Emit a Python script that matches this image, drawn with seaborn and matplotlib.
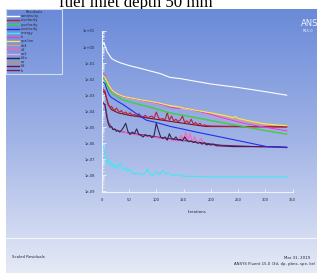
import numpy as np
import pandas as pd
import matplotlib
matplotlib.use("Agg")
import matplotlib.pyplot as plt
import seaborn as sns
from matplotlib.colors import LinearSegmentedColormap
from matplotlib.ticker import FixedLocator, FuncFormatter, LogLocator, NullFormatter

# legend order and colours (Fluent residual monitor)
names = ["continuity", "x-velocity", "y-velocity", "z-velocity", "energy", "k", "epsilon",
         "ch4", "o2", "co2", "h2o", "co", "h2", "h"]
colors = ["#ffffff", "#b8203a", "#20e040", "#2030e8", "#40e8f0", "#e040d8", "#f0f040",
          "#f09080", "#ff60b8", "#f0a8d8", "#2a2850", "#b89868", "#7c101c", "#682068"]
# hidden ones first so the visible curves sit on top
draw_order = ["ch4", "co2", "co", "h", "h2", "o2", "h2o", "x-velocity", "energy",
              "z-velocity", "y-velocity", "k", "epsilon", "continuity"]

# iterations / log10(scaled residual)
continuity_it = [1, 4, 10, 18, 25, 34, 50, 70, 90, 107, 125, 143, 200, 250, 300, 339]
continuity_log = [0.1, 0.27, -0.3, -0.71, -0.85, -0.98, -1.15, -1.32, -1.5, -1.65, -1.89, -1.96,
                  -2.3, -2.52, -2.78, -3.0]

xvel_it = [1, 3, 6, 9, 12, 15, 18, 21, 24, 27, 30, 33, 36, 40, 44, 48, 52, 56, 60, 64, 68, 72,
           76, 80, 84, 88, 92, 96, 100, 104, 108, 112, 116, 120, 124, 128, 132, 136, 140, 144,
           148, 152, 156, 160, 164, 168, 172, 176, 180, 184, 188, 192, 200, 220, 260, 300, 339]
xvel_log = [-2.5, -2.65, -2.75, -3.2, -3.55, -3.75, -3.7, -3.85, -3.95, -3.8, -3.95, -4.05, -3.95,
            -4.15, -4.05, -4.2, -4.1, -4.25, -4.2, -4.3, -4.15, -4.3, -4.35, -4.25, -4.4, -4.35,
            -4.3, -4.45, -4.05, -4.4, -4.5, -4.45, -4.55, -4.1, -4.55, -4.3, -4.6, -4.5, -4.65,
            -4.55, -4.3, -4.7, -4.6, -4.75, -4.5, -4.8, -4.7, -4.85, -4.75, -4.9, -4.85, -4.9,
            -4.92, -4.93, -4.95, -4.95, -4.96]

yvel_it = [1, 3, 6, 10, 14, 20, 28, 40, 55, 70, 85, 100, 125, 150, 174, 220, 260, 300, 339]
yvel_log = [-1.9, -1.95, -2.06, -2.4, -2.65, -2.9, -3.1, -3.3, -3.45, -3.58, -3.7, -3.85, -4.1,
            -4.25, -4.4, -4.7, -4.95, -5.2, -5.42]

zvel_it = [1, 3, 6, 10, 14, 18, 24, 30, 40, 55, 70, 82, 100, 125, 150, 174, 220, 260, 302, 339]
zvel_log = [-2.15, -2.2, -2.27, -2.7, -3.0, -3.15, -3.27, -3.4, -3.6, -3.95, -4.3, -4.56, -4.7,
            -4.94, -5.12, -5.3, -5.62, -5.9, -6.2, -6.27]

energy_it = [1, 4, 7, 10, 13, 16, 19, 22, 25, 28, 31, 34, 37, 40, 44, 48, 52, 56, 60, 66, 72,
             78, 84, 88, 94, 100, 106, 112, 118, 124, 130, 140, 150, 170, 200, 250, 300, 339]
energy_log = [-6.0, -6.3, -6.9, -7.25, -7.0, -7.4, -7.2, -7.5, -7.3, -7.6, -7.45, -7.2, -7.55,
              -7.65, -7.5, -7.75, -7.6, -7.85, -7.9, -7.85, -7.95, -7.9, -7.6, -7.9, -8.0, -7.75,
              -7.95, -7.7, -7.9, -7.85, -8.0, -7.95, -8.05, -8.05, -8.1, -8.1, -8.1, -8.1]

k_it = [1, 3, 6, 10, 14, 20, 28, 40, 55, 70, 85, 100, 113, 125, 140, 150, 160, 174, 200, 220,
        260, 300, 339]
k_log = [-1.65, -1.7, -1.75, -2.1, -2.45, -2.75, -2.95, -3.1, -3.2, -3.3, -3.4, -3.5, -3.6, -3.75,
         -3.82, -3.76, -3.86, -3.98, -4.2, -4.4, -4.75, -5.0, -5.22]

eps_it = [1, 3, 6, 10, 14, 20, 28, 40, 55, 70, 85, 100, 113, 125, 140, 160, 174, 200, 230, 240,
          245, 250, 270, 296, 320, 339]
eps_log = [-1.75, -1.8, -1.88, -2.15, -2.45, -2.72, -2.92, -3.08, -3.18, -3.28, -3.36, -3.45,
           -3.55, -3.65, -3.72, -3.85, -3.95, -4.1, -4.3, -4.4, -4.33, -4.45, -4.6, -4.77, -4.85,
           -4.9]

ch4_it = [1, 6, 12, 20, 40, 70, 100, 140, 174, 220, 260, 300, 339]
ch4_log = [-1.7, -1.8, -2.3, -2.75, -3.1, -3.3, -3.48, -3.76, -3.96, -4.3, -4.6, -4.85, -5.0]

o2_it = [1, 6, 12, 20, 40, 60, 80, 100, 120, 140, 146, 150, 154, 158, 162, 166, 170, 176, 182,
         188, 200, 220, 339]
o2_log = [-3.5, -3.65, -4.8, -5.1, -5.3, -5.45, -5.55, -5.65, -5.75, -5.85, -5.5, -5.9, -5.3,
          -5.85, -5.4, -5.95, -5.6, -6.0, -5.7, -6.05, -6.1, -6.2, -6.25]

co2_it = [1, 6, 12, 20, 40, 70, 100, 140, 174, 220, 260, 300, 339]
co2_log = [-1.68, -1.77, -2.3, -2.77, -3.12, -3.32, -3.52, -3.8, -3.98, -4.42, -4.77, -5.02, -5.22]

h2o_it = [1, 3, 6, 9, 12, 15, 18, 21, 24, 27, 30, 33, 36, 40, 44, 48, 52, 56, 60, 64, 68, 72,
          76, 80, 84, 88, 92, 96, 100, 104, 108, 112, 116, 120, 124, 128, 132, 136, 140, 144,
          148, 152, 156, 160, 164, 168, 172, 176, 180, 184, 188, 192, 196, 200, 205, 210, 217,
          240, 280, 320, 339]
h2o_log = [-3.4, -3.5, -3.6, -4.3, -4.75, -5.0, -4.95, -5.15, -5.1, -5.25, -5.2, -5.3, -5.2,
           -5.0, -4.75, -5.25, -5.45, -5.3, -5.4, -5.1, -5.45, -5.5, -5.6, -5.45, -5.55, -5.5,
           -5.65, -5.5, -4.75, -5.2, -5.6, -5.7, -5.6, -5.8, -5.4, -5.7, -5.75, -5.6, -5.8,
           -5.75, -5.85, -5.6, -5.8, -5.9, -5.85, -5.95, -5.9, -6.0, -5.95, -6.05, -5.95, -6.1,
           -6.05, -6.1, -6.05, -6.15, -6.15, -6.2, -6.2, -6.22, -6.25]

co_it = [1, 6, 12, 20, 40, 70, 100, 125, 174, 220, 260, 300, 339]
co_log = [-1.92, -2.08, -2.5, -2.92, -3.32, -3.6, -3.87, -4.12, -4.42, -4.72, -4.97, -5.22, -5.44]

h2_it = [1, 6, 12, 18, 30, 50, 70, 90, 110, 130, 150, 170, 192, 339]
h2_log = [-2.7, -2.85, -3.6, -3.9, -4.1, -4.25, -4.35, -4.45, -4.55, -4.65, -4.75, -4.85, -4.95,
          -4.98]

h_it = [1, 6, 12, 20, 40, 70, 100, 140, 180, 220, 280, 339]
h_log = [-3.45, -3.6, -4.7, -5.1, -5.3, -5.45, -5.6, -5.78, -5.95, -6.12, -6.2, -6.24]

series = {
    "continuity": (continuity_it, continuity_log), "x-velocity": (xvel_it, xvel_log),
    "y-velocity": (yvel_it, yvel_log), "z-velocity": (zvel_it, zvel_log),
    "energy": (energy_it, energy_log), "k": (k_it, k_log), "epsilon": (eps_it, eps_log),
    "ch4": (ch4_it, ch4_log), "o2": (o2_it, o2_log), "co2": (co2_it, co2_log),
    "h2o": (h2o_it, h2o_log), "co": (co_it, co_log), "h2": (h2_it, h2_log), "h": (h_it, h_log),
}
frames = []
for name, (it, lg) in series.items():
    frames.append(pd.DataFrame({"iteration": it, "residual": 10.0 ** np.array(lg), "series": name}))
df = pd.concat(frames, ignore_index=True)

W, H = 317, 273
fig = plt.figure(figsize=(W / 100, H / 100), dpi=100)

# title of the document, cut off by the screenshot
fig.text(135.5 / W, 1 - 7 / H, "fuel inlet depth 50 mm", family="Liberation Serif",
         fontsize=12.2, ha="center", va="baseline", color="black", zorder=-1)

# Fluent window background
bg = fig.add_axes([6 / W, 0, 1 - 6 / W, 1 - 9 / H])
grad = LinearSegmentedColormap.from_list("fluent", ["#6a8ad8", "#a2b4e6", "#e6eaf6"])
bg.imshow(np.linspace(0, 1, 256).reshape(-1, 1), cmap=grad, aspect="auto", extent=[0, 1, 0, 1])
bg.axis("off")
fig.add_artist(plt.Line2D([6 / W, 1], [35 / H, 35 / H], color="#f4f6fc", lw=0.8,
                          transform=fig.transFigure))

ax = fig.add_axes([101.7 / W, 1 - 191.5 / H, 191 / W, 160.5 / H])
ax.set_facecolor("none")
palette = dict(zip(names, colors))
sns.lineplot(data=df, x="iteration", y="residual", hue="series", hue_order=draw_order,
             palette=palette, linewidth=0.8, estimator=None, ax=ax)
ax.set_yscale("log")
ax.set_xlim(0, 350)
ax.set_ylim(1e-9, 1e1)
ax.yaxis.set_major_locator(FixedLocator([10.0 ** e for e in range(-9, 2)]))
ax.yaxis.set_major_formatter(FuncFormatter(lambda v, p: f"{v:.0e}"))
ax.yaxis.set_minor_locator(LogLocator(base=10, subs=np.arange(2, 10), numticks=100))
ax.yaxis.set_minor_formatter(NullFormatter())
ax.set_xticks(range(0, 351, 50))
for s in ["top", "right"]:
    ax.spines[s].set_visible(False)
for s in ["left", "bottom"]:
    ax.spines[s].set_color("#eef2fa")
    ax.spines[s].set_linewidth(0.8)
ax.tick_params(axis="y", which="major", direction="in", length=3, width=0.6, color="#eef2fa",
               labelsize=2.6, labelcolor="#23233c", pad=5)
ax.tick_params(axis="y", which="minor", direction="in", length=1.5, width=0.5, color="#eef2fa")
ax.tick_params(axis="x", which="major", direction="in", length=2, width=0.6, color="#eef2fa",
               labelsize=2.6, labelcolor="#23233c", pad=4.5)
ax.set_xlabel("Iterations", fontsize=2.8, color="#23233c", labelpad=6)
ax.set_ylabel("")

handles, labels = ax.get_legend_handles_labels()
lookup = dict(zip(labels, handles))
leg = ax.legend([lookup[n] for n in names], names, title="Residuals", fontsize=2.6,
                title_fontsize=2.6, loc="upper left", mode="expand",
                bbox_to_anchor=(6 / W, 1 - 71 / H, 56 / W, 62 / H), bbox_transform=fig.transFigure,
                handlelength=3.3, handletextpad=0.5, labelspacing=0.05, borderpad=0.3,
                borderaxespad=0, frameon=True, fancybox=False, facecolor="none",
                edgecolor="#e8eef8")
leg.get_frame().set_linewidth(0.8)
for t in leg.get_texts():
    t.set_color("#23233c")
leg.get_title().set_color("#23233c")
for hnd in leg.legend_handles:
    hnd.set_linewidth(1.0)

# Fluent annotations
fig.text(301 / W, 1 - 24 / H, "ANSYS", fontsize=6, color="#eef2fa", va="center", ha="left")
fig.text(303 / W, 1 - 31 / H, "R15.0", fontsize=2.6, color="#eef2fa", va="center", ha="left")
fig.text(12.5 / W, 1 - 257 / H, "Scaled Residuals", fontsize=2.8, color="#23233c", va="center")
fig.text(284 / W, 1 - 258 / H, "Mar 31, 2019", fontsize=2.8, color="#23233c", va="center")
fig.text(234 / W, 1 - 264 / H, "ANSYS Fluent 15.0 (3d, dp, pbns, spe, ke)", fontsize=2.8,
         color="#23233c", va="center")

fig.savefig("out.png", dpi=100)
